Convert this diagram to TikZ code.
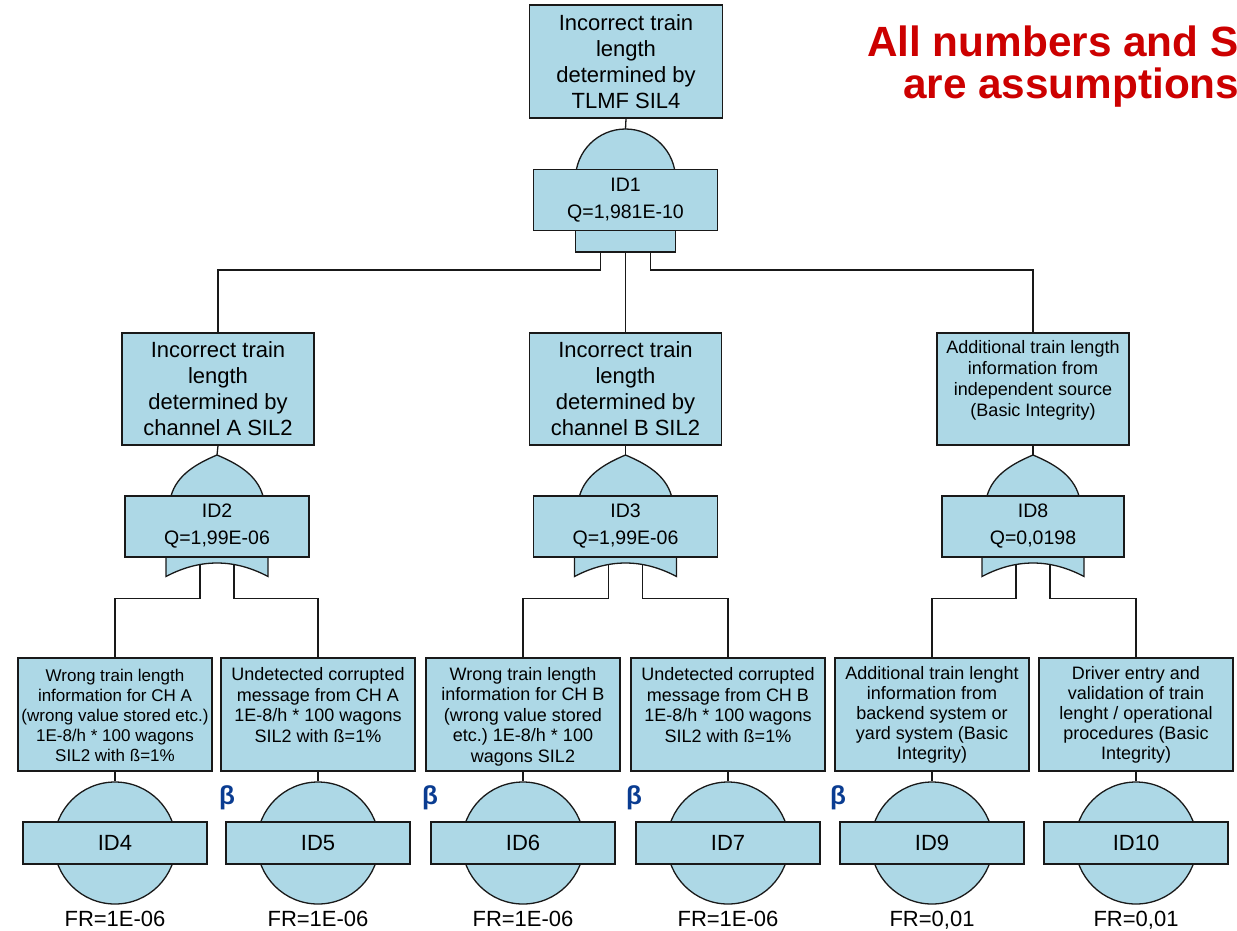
\documentclass[tikz,border=0pt]{standalone}
\usepackage{fontspec}
\setmainfont{Liberation Sans}
\usetikzlibrary{calc}
\definecolor{ftblue}{RGB}{173,216,230}
\definecolor{ftline}{RGB}{25,25,25}
\definecolor{ftred}{RGB}{204,0,0}
\definecolor{ftbeta}{RGB}{10,60,145}
\newcommand\toptext[3]{\parbox[c][#1pt][t]{#2pt}{\centering #3}}
\frenchspacing
\begin{document}
\begin{tikzpicture}[x=1pt,y=-1pt,
  shapebox/.style={draw=ftline, line width=1.3pt, fill=ftblue, inner sep=0pt},
  bigbox/.style={shapebox, minimum width=193, minimum height=113, align=center, font=\fontsize{22}{26}\selectfont},
  midbox/.style={shapebox, minimum width=192, minimum height=112},
  leafbox/.style={shapebox, minimum width=194, minimum height=113},
  gatebox/.style={shapebox, minimum width=184, minimum height=61, align=center, font=\fontsize{19.5}{27}\selectfont},
  evbox/.style={shapebox, minimum width=184, minimum height=42, font=\fontsize{22}{26}\selectfont},
  evcirc/.style={circle, draw=ftline, line width=1.3pt, fill=ftblue, minimum size=122, inner sep=0pt},
  gate/.style={draw=ftline, line width=1.3pt, fill=ftblue},
  conn/.style={draw=ftline, line width=1.3pt},
  frlabel/.style={font=\fontsize{22}{24}\selectfont, anchor=base},
  betamark/.style={font=\fontsize{26}{26}\selectfont\bfseries, text=ftbeta},
  note/.style={font=\fontsize{42.3}{43}\selectfont\bfseries, text=ftred, anchor=base west, inner sep=0pt},
  andgate/.pic={
    \path[gate] (-50,20) -- (-50,52) -- (50,52) -- (50,20) -- cycle;
    \path[gate] (-50,-21) .. controls (-50,-48.6) and (-27.6,-71) .. (0,-71)
      .. controls (27.6,-71) and (50,-48.6) .. (50,-21) -- cycle;
    \coordinate (-in) at (0,-71);
    \coordinate (-o1) at (-25,52);
    \coordinate (-o2) at (0,52);
    \coordinate (-o3) at (25,52);
  },
  orgate/.pic={
    \path[gate] (-51,20) -- (-51,50) .. controls (-17,32) and (17,32) .. (51,50) -- (51,20) -- cycle;
    \path[gate] (-46,-20) -- (-46,-30.5) .. controls (-40,-52) and (-20,-63) .. (0,-71.5)
      .. controls (20,-63) and (40,-52) .. (46,-30.5) -- (46,-20) -- cycle;
    \coordinate (-in) at (0,-71.5);
    \coordinate (-o1) at (-17,38);
    \coordinate (-o2) at (17,38);
  }
]
\useasboundingbox (0,0) rectangle (1237,930);
\clip (0,0) rectangle (1237,930);

% note
\node[note] (n1) at (867,56) {All numbers and S};
\node[note] (n2) at (903,98) {are assumptions};

% gate shapes (behind the gate boxes)
\pic (g1) at (625.5,200) {andgate};
\pic (g2) at (217,526.5) {orgate};
\pic (g3) at (625.5,526.5) {orgate};
\pic (g8) at (1033,526.5) {orgate};

% top event
\node[bigbox] (top) at (626,61.5) {Incorrect train\\length\\determined by\\TLMF SIL4};
\node[gatebox] (id1) at (625.5,200) {ID1\\Q=1,981E-10};

% middle level
\node[bigbox, minimum width=192, minimum height=112] (A) at (218,389) {Incorrect train\\length\\determined by\\channel A SIL2};
\node[bigbox, minimum width=192, minimum height=112] (B) at (625.5,389) {Incorrect train\\length\\determined by\\channel B SIL2};
\node[midbox] (C) at (1033,389) {\toptext{100.4}{188}{\fontsize{18}{21}\selectfont\strut Additional train length\\information from\\independent source\\(Basic Integrity)}};

\node[gatebox] (id2) at (217,526.5) {ID2\\Q=1,99E-06};
\node[gatebox] (id3) at (625.5,526.5) {ID3\\Q=1,99E-06};
\node[gatebox, minimum width=182] (id8) at (1033,526.5) {ID8\\Q=0,0198};

% leaves
\node[leafbox] (l1) at (115,714.5) {\toptext{95}{192}{\fontsize{17}{20}\selectfont\strut Wrong train length\\information for CH A\\(wrong value stored etc.)\\1E-8/h * 100 wagons\\SIL2 with ß=1\%}};
\node[leafbox] (l2) at (318,714.5) {\toptext{97.7}{190}{\fontsize{18}{20.8}\selectfont\strut Undetected corrupted\\message from CH A\\1E-8/h * 100 wagons\\SIL2 with ß=1\%}};
\node[leafbox] (l3) at (523,714.5) {\toptext{97.7}{190}{\fontsize{18}{20.5}\selectfont\strut Wrong train length\\information for CH B\\(wrong value stored\\etc.) 1E-8/h * 100\\wagons SIL2}};
\node[leafbox] (l4) at (728,714.5) {\toptext{97.7}{190}{\fontsize{18}{20.8}\selectfont\strut Undetected corrupted\\message from CH B\\1E-8/h * 100 wagons\\SIL2 with ß=1\%}};
\node[leafbox] (l5) at (932,714.5) {\toptext{97.7}{190}{\fontsize{18}{20}\selectfont\strut Additional train lenght\\information from\\backend system or\\yard system (Basic\\Integrity)}};
\node[leafbox] (l6) at (1136,714.5) {\toptext{97.7}{190}{\fontsize{18}{20}\selectfont\strut Driver entry and\\validation of train\\lenght / operational\\procedures (Basic\\Integrity)}};

% basic events
\foreach \i/\x/\id/\fr in {1/115/ID4/FR=1E-06, 2/318/ID5/FR=1E-06, 3/523/ID6/FR=1E-06, 4/728/ID7/FR=1E-06, 5/932/ID9/FR=0{,}01, 6/1136/ID10/FR=0{,}01}{
  \node[evcirc] (e\i) at (\x,843) {};
  \node[evbox] (r\i) at (\x,843) {\id};
  \node[frlabel] (f\i) at (\x,926) {\fr};
}

% beta marks
\node[betamark] (b1) at (227,798) {β};
\node[betamark] (b2) at (430,798) {β};
\node[betamark] (b3) at (634,798) {β};
\node[betamark] (b4) at (838,798) {β};

% connectors
\draw[conn] (top.south) -- (g1-in);
\draw[conn] (g1-o1) -- ++(0,18) -| (A.north);
\draw[conn] (g1-o2) -- (B.north);
\draw[conn] (g1-o3) -- ++(0,18) -| (C.north);
\draw[conn] (A.south) -- (g2-in);
\draw[conn] (B.south) -- (g3-in);
\draw[conn] (C.south) -- (g8-in);
\draw[conn] (g2-o1) -- ++(0,34) -| (l1.north);
\draw[conn] (g2-o2) -- ++(0,34) -| (l2.north);
\draw[conn] (g3-o1) -- ++(0,34) -| (l3.north);
\draw[conn] (g3-o2) -- ++(0,34) -| (l4.north);
\draw[conn] (g8-o1) -- ++(0,34) -| (l5.north);
\draw[conn] (g8-o2) -- ++(0,34) -| (l6.north);
\foreach \i in {1,...,6}{
  \draw[conn] (l\i.south) -- (e\i.north);
}
\end{tikzpicture}
\end{document}
